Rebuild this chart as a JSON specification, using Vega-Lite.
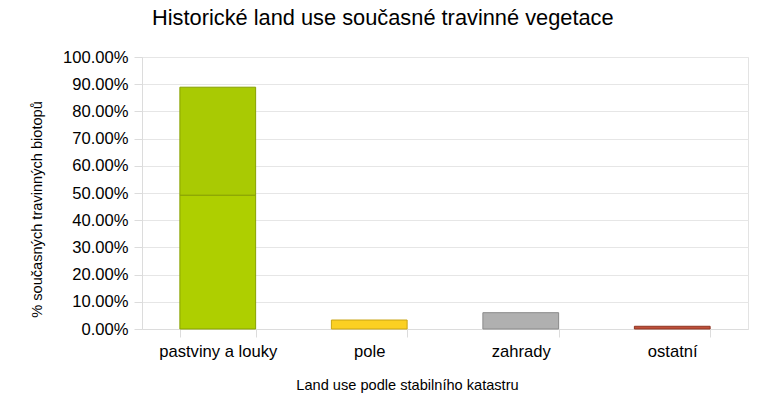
{
  "$schema": "https://vega.github.io/schema/vega-lite/v6.json",
  "autosize": "none",
  "width": 606,
  "height": 272,
  "padding": {"left": 142, "top": 57, "right": 34, "bottom": 71},
  "background": "white",
  "config": {
    "font": "Liberation Sans",
    "view": {"stroke": "#e3e3e3", "strokeWidth": 1}
  },
  "title": {
    "text": "Historické land use současné travinné vegetace",
    "font": "Liberation Sans",
    "fontSize": 21.8,
    "fontWeight": "normal",
    "color": "#000000",
    "anchor": "start",
    "frame": "group",
    "dx": 10,
    "baseline": "alphabetic",
    "offset": 2
  },
  "data": {
    "values": [
      {"land": "pastviny a louky", "series": "pastviny a louky (spodní)", "layer": 1, "value": 0.492},
      {"land": "pastviny a louky", "series": "pastviny a louky (horní)", "layer": 2, "value": 0.397},
      {"land": "pole", "series": "pole", "layer": 1, "value": 0.033},
      {"land": "zahrady", "series": "zahrady", "layer": 1, "value": 0.060},
      {"land": "ostatní", "series": "ostatní", "layer": 1, "value": 0.010}
    ]
  },
  "mark": {"type": "bar", "strokeWidth": 1},
  "encoding": {
    "x": {
      "field": "land",
      "type": "nominal",
      "sort": ["pastviny a louky", "pole", "zahrady", "ostatní"],
      "scale": {"paddingInner": 0.5, "paddingOuter": 0.25},
      "axis": {
        "title": "Land use podle stabilního katastru",
        "titleFont": "Liberation Sans",
        "titleFontSize": 14.6,
        "titleFontWeight": "normal",
        "titleColor": "#000000",
        "titleX": 265,
        "titleY": 60,
        "titleBaseline": "alphabetic",
        "titleAlign": "center",
        "labelAngle": 0,
        "labelFont": "Liberation Sans",
        "labelFontSize": 16.6,
        "labelColor": "#000000",
        "labelPadding": 6,
        "tickBand": "extent",
        "tickSize": 8,
        "tickColor": "#dcdcdc",
        "domainColor": "#dcdcdc",
        "grid": false
      }
    },
    "y": {
      "field": "value",
      "type": "quantitative",
      "stack": "zero",
      "scale": {"domain": [0, 1], "nice": false},
      "axis": {
        "title": "% současných travinných biotopů",
        "titleFont": "Liberation Sans",
        "titleFontSize": 14.6,
        "titleFontWeight": "normal",
        "titleColor": "#000000",
        "titleX": -105,
        "titleY": 152,
        "titleAngle": -90,
        "titleAlign": "center",
        "titleBaseline": "middle",
        "values": [0, 0.1, 0.2, 0.3, 0.4, 0.5, 0.6, 0.7, 0.8, 0.9, 1],
        "format": ".2%",
        "labelFont": "Liberation Sans",
        "labelFontSize": 16.6,
        "labelColor": "#000000",
        "labelPadding": 6,
        "tickSize": 8,
        "tickColor": "#dcdcdc",
        "domainColor": "#dcdcdc",
        "gridColor": "#e6e6e6"
      }
    },
    "order": {"field": "layer", "type": "quantitative", "sort": "ascending"},
    "color": {
      "field": "series",
      "type": "nominal",
      "scale": {
        "domain": ["pastviny a louky (spodní)", "pastviny a louky (horní)", "pole", "zahrady", "ostatní"],
        "range": ["#aecf00", "#a9ca03", "#fbd022", "#b0b0b0", "#c0503a"]
      },
      "legend": null
    },
    "stroke": {
      "field": "series",
      "type": "nominal",
      "scale": {
        "domain": ["pastviny a louky (spodní)", "pastviny a louky (horní)", "pole", "zahrady", "ostatní"],
        "range": ["#87a000", "#87a000", "#c9a514", "#8a8a8a", "#8e3422"]
      },
      "legend": null
    }
  }
}
